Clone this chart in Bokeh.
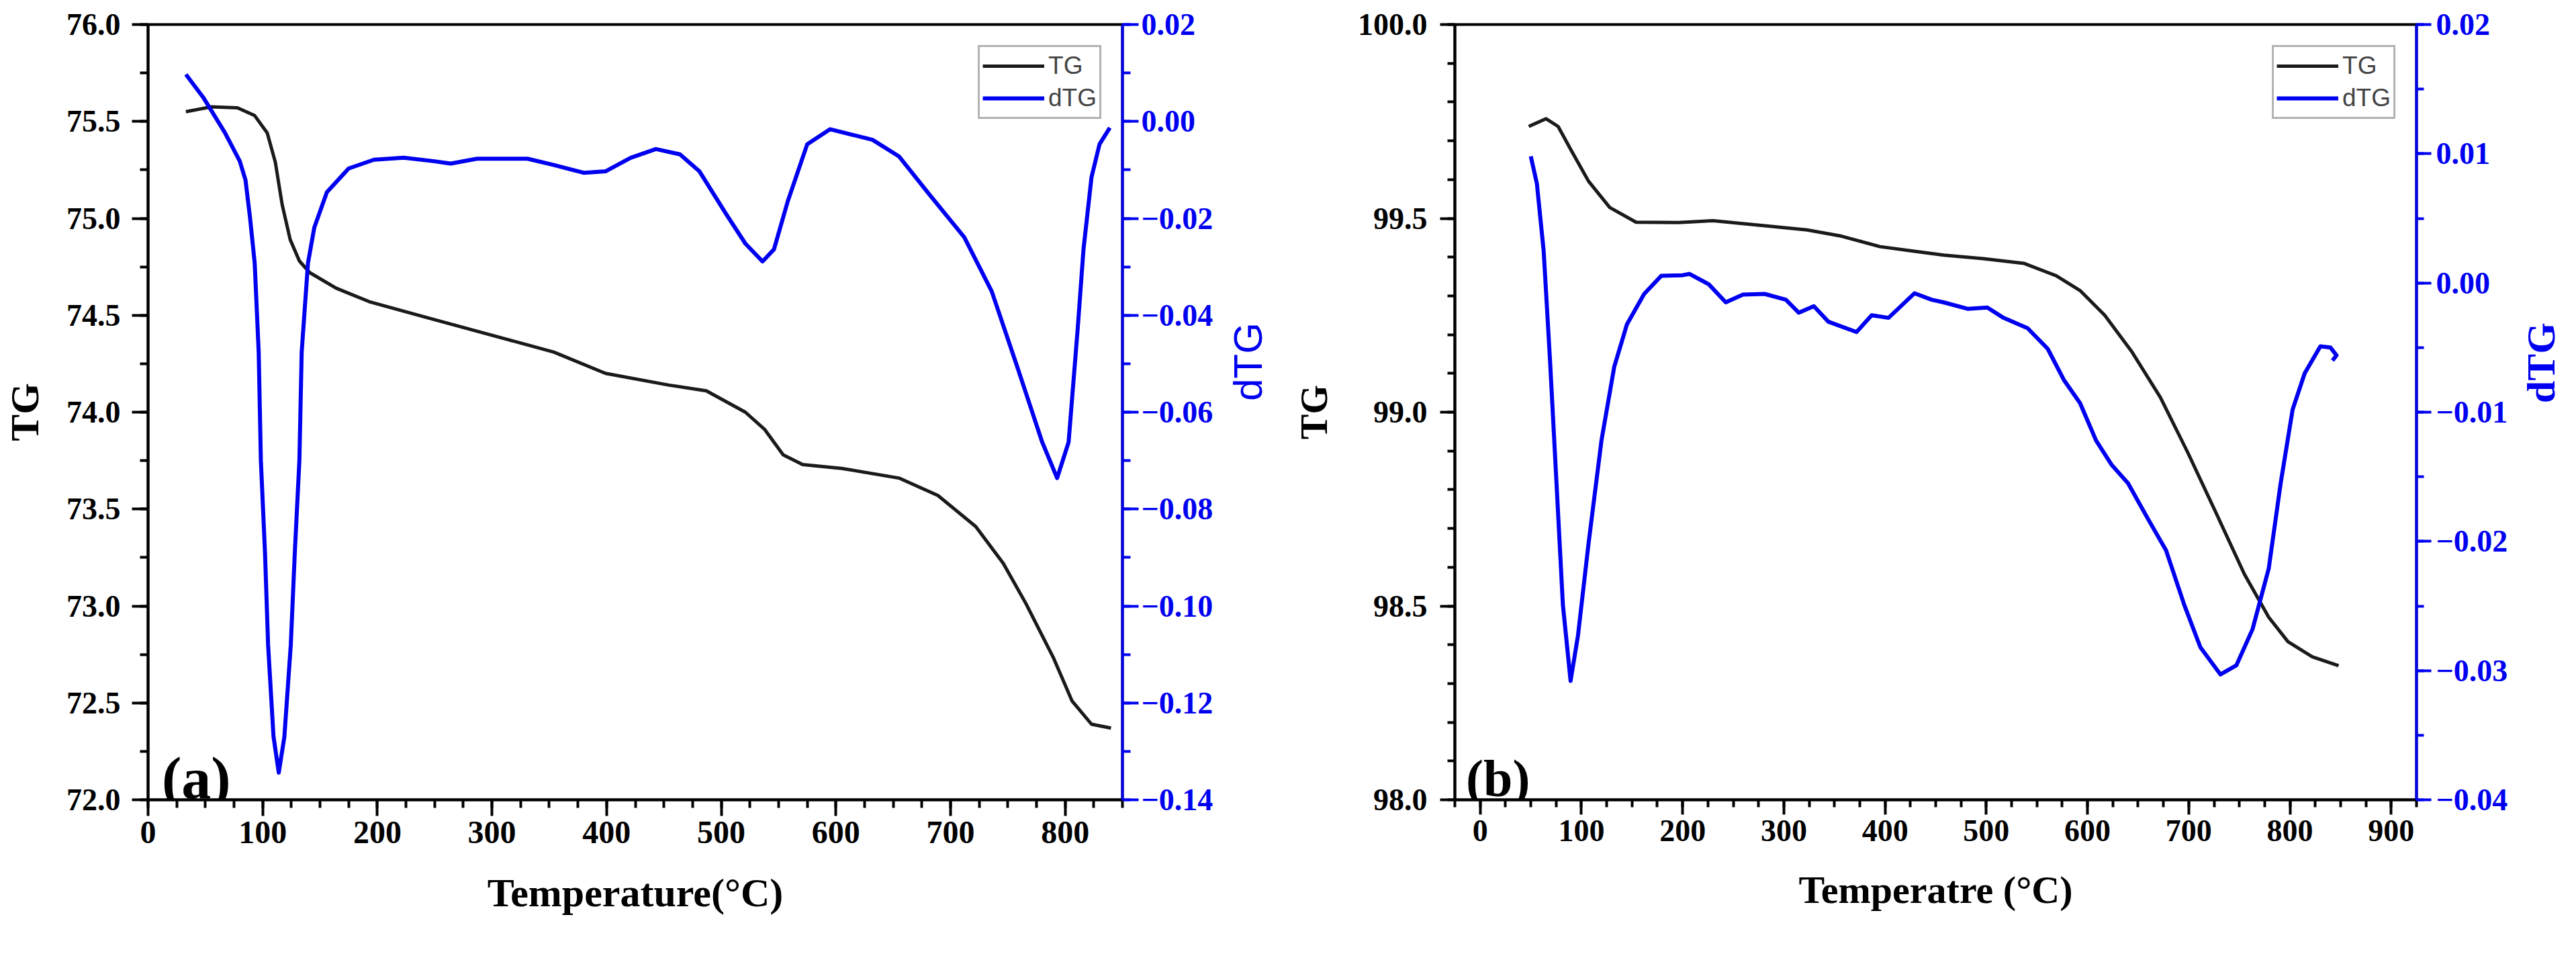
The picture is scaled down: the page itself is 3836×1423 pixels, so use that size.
import math
from bokeh.plotting import figure
from bokeh.models import (Range1d, LinearAxis, FixedTicker, CustomJSTickFormatter,
                          Legend, LegendItem, Label)
from bokeh.core.properties import value
from bokeh.layouts import row
from bokeh.embed import file_html
from bokeh.resources import INLINE

# ---------------- data: panel (a) ----------------
a_tg_T = [33, 55, 78, 93, 104, 111, 117, 124, 132, 141, 164, 193, 242, 298, 354, 399,
          454, 487, 521, 538, 554, 571, 605, 655, 689, 722, 746, 766, 790, 806, 823, 840]
a_tg = [75.55, 75.575, 75.57, 75.53, 75.44, 75.29, 75.07, 74.89, 74.78, 74.72, 74.64,
        74.57, 74.49, 74.40, 74.31, 74.20, 74.14, 74.11, 74.00, 73.91, 73.78, 73.73,
        73.71, 73.66, 73.57, 73.41, 73.22, 73.01, 72.73, 72.51, 72.39, 72.37]

a_dtg_T = [33, 48, 67, 80, 85, 89, 93, 96.5, 98.4, 102, 104.7, 109.4, 114, 118.9, 124.5,
           128, 132, 134, 139.5, 145, 156, 175, 197, 223, 249, 264, 287, 331, 354, 380,
           399, 421, 443, 464, 481, 504, 521, 536, 546, 558, 575, 595, 632, 655, 682,
           712, 736, 759, 780, 793, 803, 811, 816, 823, 830, 839]
a_dtg = [0.0097, 0.005, -0.0023, -0.0082, -0.0121, -0.020, -0.0292, -0.0476, -0.070,
         -0.089, -0.108, -0.1269, -0.1344, -0.127, -0.108, -0.089, -0.070, -0.0476,
         -0.0292, -0.0219, -0.0146, -0.0097, -0.0079, -0.0075, -0.0082, -0.0087,
         -0.0077, -0.0077, -0.0090, -0.0106, -0.0103, -0.0075, -0.0057, -0.0068,
         -0.0103, -0.0190, -0.0252, -0.0289, -0.0264, -0.0165, -0.0047, -0.0016,
         -0.0038, -0.0072, -0.0152, -0.0239, -0.0351, -0.0512, -0.0662, -0.0736,
         -0.0662, -0.0426, -0.0264, -0.0115, -0.0047, -0.0013]

# ---------------- data: panel (b) ----------------
b_tg_T = [48, 65, 77, 90, 107, 128, 154, 196, 230, 281, 323, 357, 395, 429, 458, 497,
          537, 569, 593, 617, 644, 672, 699, 727, 755, 779, 798, 822, 848]
b_tg = [99.737, 99.757, 99.737, 99.675, 99.596, 99.528, 99.49, 99.489, 99.494, 99.481,
        99.47, 99.454, 99.427, 99.415, 99.405, 99.396, 99.384, 99.352, 99.313, 99.25,
        99.155, 99.038, 98.896, 98.74, 98.582, 98.471, 98.408, 98.369, 98.346]

b_dtg_T = [50, 56, 62.7, 69, 75.4, 81.7, 89.3, 96.6, 107, 119.8, 132.4, 145, 162, 179,
           200, 206.6, 225.8, 242.6, 259.6, 281, 302, 314.7, 329.6, 344, 371.8, 386.7,
           403.4, 429, 446, 457.7, 481.5, 501, 517, 540.8, 560.7, 576.6, 592.6, 608.5,
           624, 640, 660, 677.6, 695.5, 711.5, 731.3, 747, 763, 779, 790.8, 802.6,
           814.5, 830, 840, 846, 842]
b_dtg = [0.0098, 0.0077, 0.0025, -0.0060, -0.0155, -0.0249, -0.0308, -0.0273, -0.0202,
         -0.0122, -0.0065, -0.0032, -0.00085, 0.00056, 0.0006, 0.0007, -0.0001, -0.0015,
         -0.0009, -0.00085, -0.0013, -0.0023, -0.0018, -0.0030, -0.0038, -0.0025,
         -0.0027, -0.0008, -0.0013, -0.0015, -0.0020, -0.0019, -0.0027, -0.0035,
         -0.0051, -0.0075, -0.0093, -0.0122, -0.0141, -0.0155, -0.0183, -0.0207,
         -0.0249, -0.0282, -0.0303, -0.0296, -0.0268, -0.0221, -0.0155, -0.0098,
         -0.0070, -0.0049, -0.0050, -0.0056, -0.0060]

# ---------------- ticks ----------------
a_x_ticks = [0, 100, 200, 300, 400, 500, 600, 700, 800]
a_x_minor = [25 * i for i in range(0, 35)]
a_y_ticks = [72.0, 72.5, 73.0, 73.5, 74.0, 74.5, 75.0, 75.5, 76.0]
a_y_minor = [72 + 0.25 * i for i in range(0, 17)]
a_r_ticks = [-0.14, -0.12, -0.10, -0.08, -0.06, -0.04, -0.02, 0.0, 0.02]
a_r_minor = [round(-0.14 + 0.01 * i, 3) for i in range(0, 17)]

b_x_ticks = [0, 100, 200, 300, 400, 500, 600, 700, 800, 900]
b_x_minor = [-25 + 25 * i for i in range(0, 39)]
b_y_ticks = [98.0, 98.5, 99.0, 99.5, 100.0]
b_y_minor = [round(98 + 0.1 * i, 2) for i in range(0, 21)]
b_r_ticks = [-0.04, -0.03, -0.02, -0.01, 0.0, 0.01, 0.02]
b_r_minor = [round(-0.04 + 0.005 * i, 4) for i in range(0, 13)]

BLUE = "#0000f0"
BLACK = "#1a1a1a"
SERIF = "Liberation Serif"
SANS = "Liberation Sans"
FIG_H = 1400


def fmt(dec):
    return CustomJSTickFormatter(code=(
        "var t = Math.abs(tick) < 1e-9 ? 0 : tick;"
        "return t.toFixed(%d).replace('-', '\\u2212');" % dec))


def style_axis(ax, color, size, standoff, label_size=60, label_standoff=10,
               tick_len=24):
    ax.axis_line_color = color
    ax.axis_line_width = 4
    ax.major_tick_line_color = color
    ax.major_tick_line_width = 4
    ax.major_tick_out = tick_len
    ax.major_tick_in = 0
    ax.minor_tick_line_color = color
    ax.minor_tick_line_width = 4
    ax.minor_tick_out = tick_len // 2
    ax.minor_tick_in = 0
    ax.major_label_text_font = SERIF
    ax.major_label_text_font_style = "bold"
    ax.major_label_text_font_size = f"{size}px"
    ax.major_label_text_color = color
    ax.major_label_standoff = standoff
    ax.axis_label_text_font = SERIF
    ax.axis_label_text_font_style = "bold"
    ax.axis_label_text_font_size = f"{label_size}px"
    ax.axis_label_text_color = color
    ax.axis_label_standoff = label_standoff


def make_panel(width, xr, yr, rr, tgT, tg, dT, dtg, xt, xm, yt, ym, rt, rm,
               xlabel, borders, letter, letter_xy, letter_size, g):
    bl, br, bt, bb = borders
    p = figure(width=width, height=FIG_H, x_range=Range1d(*xr), y_range=Range1d(*yr),
               output_backend="svg", toolbar_location=None,
               min_border_left=bl, min_border_right=br,
               min_border_top=bt, min_border_bottom=bb)
    p.extra_y_ranges = {"dtg": Range1d(*rr)}
    p.grid.visible = False
    p.outline_line_color = "black"
    p.outline_line_width = 4
    p.outline_line_alpha = 1.0
    p.background_fill_color = "white"
    p.border_fill_color = "white"

    r1 = p.line(tgT, tg, line_color=BLACK, line_width=5, line_join="round")
    r2 = p.line(dT, dtg, line_color=BLUE, line_width=6, line_join="round",
                y_range_name="dtg")

    xa = p.xaxis[0]
    xa.ticker = FixedTicker(ticks=xt, minor_ticks=xm)
    xa.formatter = fmt(0)
    xa.axis_label = xlabel
    style_axis(xa, "black", g["xs"], g["xso"], g["xls"], g["xlso"], g["tl"])

    ya = p.yaxis[0]
    ya.ticker = FixedTicker(ticks=yt, minor_ticks=ym)
    ya.formatter = fmt(1)
    ya.axis_label = "TG"
    style_axis(ya, "black", g["ys"], g["yso"], g["yls"], g["ylso"], g["tl"])

    ra = LinearAxis(y_range_name="dtg")
    ra.ticker = FixedTicker(ticks=rt, minor_ticks=rm)
    ra.formatter = fmt(2)
    style_axis(ra, BLUE, g["ys"], g["rso"], tick_len=g["tl"])
    p.add_layout(ra, "right")

    leg = Legend(items=[LegendItem(label="TG", renderers=[r1]),
                        LegendItem(label="dTG", renderers=[r2])],
                 location="top_right", margin=31, padding=4, spacing=0,
                 glyph_width=92, glyph_height=48, label_height=48, label_width=70,
                 label_standoff=6,
                 label_text_font=SANS, label_text_font_size="37px",
                 border_line_color="#666666", border_line_width=3,
                 background_fill_color="white", background_fill_alpha=1.0)
    p.add_layout(leg)

    p.add_layout(Label(x=letter_xy[0], y=letter_xy[1], text=letter,
                       text_font=SERIF, text_font_style="bold",
                       text_font_size=f"{letter_size}px", text_color="black",
                       text_align="left", text_baseline="alphabetic"))
    return p


def title_strip(width, cx, cy, font, style):
    """Narrow strip holding the right-hand 'dTG' axis title, read bottom-to-top."""
    s = figure(width=width, height=FIG_H, x_range=Range1d(0, width),
               y_range=Range1d(0, FIG_H), output_backend="svg", toolbar_location=None,
               min_border_left=0, min_border_right=0, min_border_top=0,
               min_border_bottom=0, x_axis_location=None, y_axis_location=None)
    s.grid.visible = False
    s.outline_line_color = None
    s.text(x=[cx], y=[cy], text=["dTG"], angle=math.pi / 2,
           text_align="center", text_baseline="middle",
           text_font=value(font), text_font_style=style,
           text_font_size=value("60px"), text_color=BLUE)
    return s


pa = make_panel(1820, (0, 850), (72, 76), (-0.14, 0.02), a_tg_T, a_tg, a_dtg_T, a_dtg,
                a_x_ticks, a_x_minor, a_y_ticks, a_y_minor, a_r_ticks, a_r_minor,
                "Temperature(\u00b0C)", (216, 149, 34, 197),
                "(a)", (12, 72.11), 88,
                dict(tl=24, xs=48, ys=46, xso=8, xls=60, xlso=38, yso=17, yls=60,
                     ylso=26, rso=4))
sa = title_strip(90, 38, 791, SANS, "normal")

pb = make_panel(1840, (-25, 925), (98, 100), (-0.04, 0.02), b_tg_T, b_tg, b_dtg_T,
                b_dtg, b_x_ticks, b_x_minor, b_y_ticks, b_y_minor, b_r_ticks,
                b_r_minor, "Temperatre (\u00b0C)", (256, 152, 36, 210),
                "(b)", (-14, 98.055), 78,
                dict(tl=22, xs=46, ys=46, xso=8, xls=58, xlso=37, yso=19, yls=56,
                     ylso=31, rso=7))
sb = title_strip(70, 33.5, 789, SERIF, "bold")

layout = row(pa, sa, pb, sb)
open("out.html", "w").write(file_html(layout, INLINE))
